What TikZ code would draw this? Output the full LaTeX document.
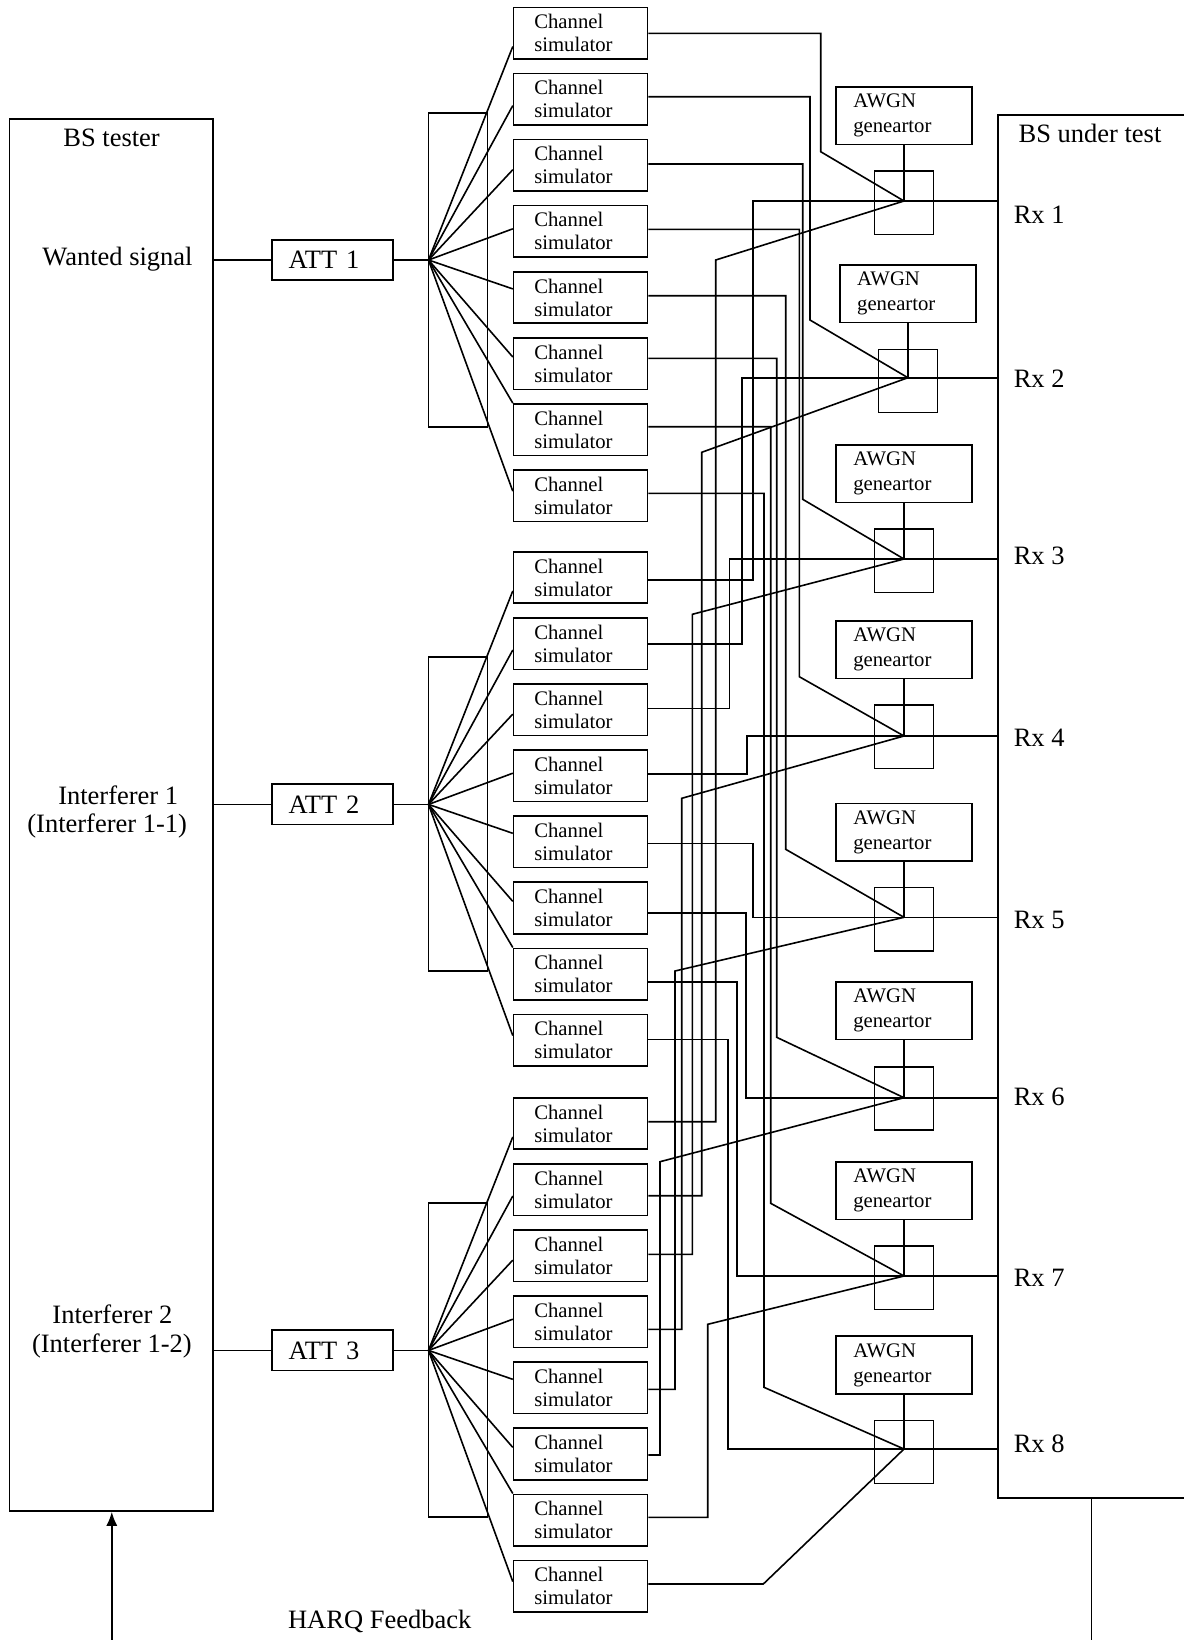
\documentclass[tikz,border=0pt]{standalone}
\usepackage{fontspec}
\setmainfont{Liberation Serif}
\usetikzlibrary{calc,arrows.meta}
\begin{document}
\begin{tikzpicture}[x=0.5pt,y=-0.5pt,line width=0.8pt,
  txt/.style={font=\fontsize{13.25}{15.5}\selectfont, inner sep=0pt},
  cs/.style={draw, minimum width=67pt, minimum height=25.75pt, text width=46.3pt, inner xsep=10.35pt, inner ysep=0pt, align=left, font=\fontsize{10.35}{11.5}\selectfont},
  awgn/.style={draw, minimum width=68pt, minimum height=28.8pt, text width=50.7pt, inner xsep=8.65pt, inner ysep=0pt, align=left, font=\fontsize{10.35}{12.5}\selectfont},
  comb/.style={draw, minimum width=29.5pt, minimum height=31.65pt, inner sep=0pt},
  att/.style={draw, minimum width=60.5pt, minimum height=20.15pt, text width=43.9pt, inner xsep=8.3pt, inner ysep=0pt, align=left, font=\fontsize{13.25}{15.5}\selectfont},
  spl/.style={draw, minimum width=29.4pt, minimum height=157pt, inner sep=0pt},
  bigbox/.style={draw, inner sep=0pt}
]
\useasboundingbox (0,0) rectangle (1184,1640);

% BS tester
\node[bigbox, minimum width=101.7pt, minimum height=696pt] (bst) at (111.3,815) {};
\node[txt] (tbst) at (111.6,138.3) {BS tester};
\node[txt] (tw) at (117.5,259) {Wanted signal};
\node[txt] (ti1a) at (118.2,795) {Interferer 1};
\node[txt] (ti1b) at (107.2,826) {(Interferer 1-1)};
\node[txt] (ti2a) at (112.4,1314.7) {Interferer 2};
\node[txt] (ti2b) at (111.9,1346) {(Interferer 1-2)};

% BS under test
\node[bigbox, anchor=north west, minimum width=105pt, minimum height=691.5pt] (bsut) at (997.3,114.3) {};
\node[txt] (tbsut) at (1090,133) {BS under test};

% channel simulators
\foreach \g/\t in {0/7.3,1/551.7,2/1097.7}{
  \foreach \k in {1,...,8}{
    \pgfmathtruncatemacro{\n}{8*\g+\k}
    \node[cs] (cs\n) at (580.6,{\t+66.1*(\k-1)+25.75}) {Channel\\simulator};
  }
}

% attenuators, splitters, fan-out
\foreach \g/\t in {1/7.3,2/551.7,3/1097.7}{
  \node[att] (att\g) at (332.5,{\t+252.7}) {ATT \g};
  \node[spl] (spl\g) at (457.9,{\t+262.5}) {};
  \coordinate (fan\g) at (428.5,{\t+252.7});
  \draw (bst.east |- att\g) -- (att\g);
  \draw (att\g) -- (fan\g);
  \foreach \k/\o in {1/40,2/33,3/31,4/24,5/18,6/20,7/0,8/22}{
    \pgfmathtruncatemacro{\n}{8*(\g-1)+\k}
    \draw (fan\g) -- ($(cs\n.north west)+(0,\o)$);
  }
}

% AWGN generators, combiners, Rx
\foreach \i/\x/\ay/\cy/\jy/\ry in {1/904/115.5/202.65/201/214.4, 2/907.9/293.65/381/377.7/378.6, 3/904/473.5/560.8/559/555.4, 4/904/649.5/736.65/736/737.4, 5/904/832.15/919.2/917.3/920.4, 6/904/1010.5/1098.35/1097.7/1097.1, 7/904/1190.5/1277.65/1276/1278.1, 8/904/1365/1452/1449/1443.3}{
  \node[awgn] (awgn\i) at (\x,\ay) {AWGN\\geneartor};
  \node[comb] (comb\i) at (\x,\cy) {};
  \coordinate (j\i) at (\x,\jy);
  \draw (awgn\i.south) -- (j\i);
  \draw (j\i) -- (j\i -| bsut.west);
  \node[txt, anchor=west] (rx\i) at (1013,\ry) {Rx \i};
}

% wanted signal paths
\draw (cs1.east |- 0,33.3) -| (820.7,151.7) -- (j1);
\draw (cs2.east |- 0,96.7) -| (810,320) -- (j2);
\draw (cs3.east |- 0,164) -| (802.7,499.3) -- (j3);
\draw (cs4.east |- 0,229.3) -| (799.3,676.7) -- (j4);
\draw (cs5.east |- 0,295.7) -| (785.7,849.3) -- (j5);
\draw (cs6.east |- 0,358.3) -| (776.7,1037.3) -- (j6);
\draw (cs7.east |- 0,426.7) -| (770.7,1203.3) -- (j7);
\draw (cs8.east |- 0,493.3) -| (764,1387.3) -- (j8);

% interferer 1 paths
\draw (cs9.east |- 0,580) -| (752.7,201) -- (j1);
\draw (cs10.east |- 0,644) -| (742,377.7) -- (j2);
\draw (cs11.east |- 0,708.3) -| (729.3,559) -- (j3);
\draw (cs12.east |- 0,774) -| (746.7,736) -- (j4);
\draw (cs13.east |- 0,843.3) -| (752.7,917.3) -- (j5);
\draw (cs14.east |- 0,912.7) -| (745.7,1097.7) -- (j6);
\draw (cs15.east |- 0,981.7) -| (736.7,1276) -- (j7);
\draw (cs16.east |- 0,1039.3) -| (727.7,1449) -- (j8);

% interferer 2 paths
\draw (cs17.east |- 0,1121.7) -| (715.7,260) -- (j1);
\draw (cs18.east |- 0,1195.7) -| (701.7,452.3) -- (j2);
\draw (cs19.east |- 0,1254.3) -| (692.3,614.3) -- (j3);
\draw (cs20.east |- 0,1329.3) -| (681.7,798.3) -- (j4);
\draw (cs21.east |- 0,1389.3) -| (675,971) -- (j5);
\draw (cs22.east |- 0,1455) -| (660,1161.7) -- (j6);
\draw (cs23.east |- 0,1517.3) -| (707.7,1324.3) -- (j7);
\draw (cs24.east |- 0,1584) -- (763.3,1584) -- (j8);

% HARQ feedback
\coordinate (harqL) at (111.8,1640);
\coordinate (harqR) at (1091.4,1640);
\draw[-{Latex[length=7pt,width=5.5pt]}] (harqL) -- (harqL |- bst.south);
\draw (bsut.south -| harqR) -- (harqR);
\node[txt] (tharq) at (379.7,1621) {HARQ Feedback};
\end{tikzpicture}
\end{document}
